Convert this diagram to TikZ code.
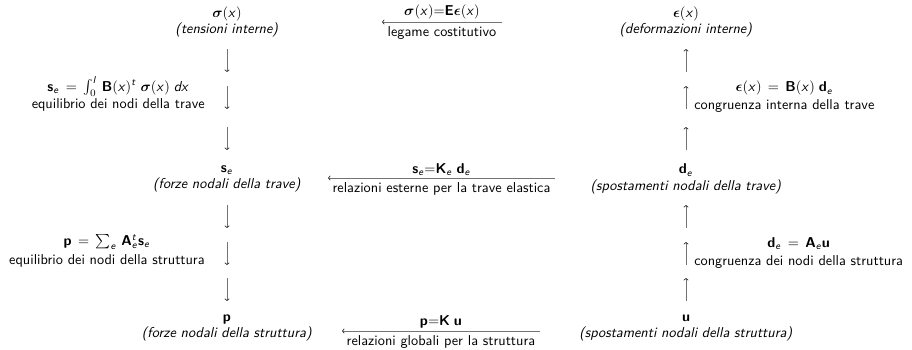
\documentclass[tikz,border=0pt]{standalone}
\usepackage{amsmath}
\usetikzlibrary{arrows.meta}
\renewcommand{\familydefault}{\sfdefault}
\DeclareSymbolFont{sfit}{OT1}{cmss}{m}{sl}
\DeclareMathSymbol{x}{\mathalpha}{sfit}{`x}
\DeclareMathSymbol{e}{\mathalpha}{sfit}{`e}
\DeclareMathSymbol{l}{\mathalpha}{sfit}{`l}
\DeclareMathSymbol{t}{\mathalpha}{sfit}{`t}
\DeclareMathSymbol{d}{\mathalpha}{sfit}{`d}
\DeclareMathAlphabet{\mathbsf}{OT1}{cmss}{bx}{n}
\newcommand{\bv}[1]{\mathbsf{#1}}
\newcommand{\bsig}{\boldsymbol{\sigma}}
\newcommand{\beps}{\boldsymbol{\epsilon}}
\begin{document}
\begin{tikzpicture}[x=0.7pt,y=-0.7pt,
  every node/.style={font=\fontsize{10}{11.5}\selectfont},
  qty/.style={align=center, inner sep=0pt},
  lbl/.style={align=center, inner sep=0pt},
  varrow/.style={draw=black!55, line width=0.5pt, -{To[length=1.8pt,width=3.4pt,black!80]}},
  harrow/.style={draw=black!55, line width=0.5pt, -{To[length=1.8pt,width=3.4pt,black!80]}},
  hla/.style={inner sep=1.5pt, above},
  hlb/.style={inner sep=3pt, below}]
\useasboundingbox (0,0) rectangle (912,350);

% quantities
\node[qty] (sig) at (227,22) {$\bsig(x)$\\ \textit{(tensioni interne)}};
\node[qty] (eps) at (686,22) {$\beps(x)$\\ \textit{(deformazioni interne)}};
\node[qty] (se) at (227,179) {$\bv{s}_e$\\ \textit{(forze nodali della trave)}};
\node[qty] (de) at (686,179) {$\bv{d}_e$\\ \textit{(spostamenti nodali della trave)}};
\node[qty] (p) at (227,328) {$\bv{p}$\\ \textit{(forze nodali della struttura)}};
\node[qty] (u) at (686,328) {$\bv{u}$\\ \textit{(spostamenti nodali della struttura)}};

% side labels
\node[lbl, anchor=east] (l1) at (205,94) {$\bv{s}_e\,=\,\int_0^l\,\bv{B}(x)^t\;\bsig(x)\;dx$\\[1pt] equilibrio dei nodi della trave};
\node[lbl, anchor=east] (l2) at (205,251) {$\bv{p}\,=\,\sum_e\,\bv{A}_e^t\bv{s}_e$\\[2pt] equilibrio dei nodi della struttura};
\node[lbl, anchor=west] (r1) at (694,97) {$\beps(x)\,=\,\bv{B}(x)\;\bv{d}_e$\\[1pt] congruenza interna della trave};
\node[lbl, anchor=west] (r2) at (694,253) {$\bv{d}_e\,=\,\bv{A}_e\bv{u}$\\[1pt] congruenza dei nodi della struttura};

% vertical arrow end points
\foreach \n/\a/\b in {1/49/72, 2/86/109, 3/127/150, 4/205/228, 5/242/265, 6/278/301}{
  \coordinate (L\n a) at (227,\a);
  \coordinate (L\n b) at (227,\b);
  \coordinate (R\n a) at (686,\b);
  \coordinate (R\n b) at (686,\a);
}
\foreach \n in {1,...,6}{
  \draw[varrow] (L\n a) -- (L\n b);
  \draw[varrow] (R\n a) -- (R\n b);
}

% horizontal arrows
\coordinate (h1a) at (502,22);  \coordinate (h1b) at (382,22);
\coordinate (h2a) at (555,178); \coordinate (h2b) at (328,178);
\coordinate (h3a) at (540,331); \coordinate (h3b) at (342,331);
\draw[harrow] (h1a) -- node[hla] {$\bsig(x){=}\bv{E}\beps(x)$} node[hlb] {legame costitutivo} (h1b);
\draw[harrow] (h2a) -- node[hla] {$\bv{s}_e{=}\bv{K}_e\;\bv{d}_e$} node[hlb] {relazioni esterne per la trave elastica} (h2b);
\draw[harrow] (h3a) -- node[hla] {$\bv{p}{=}\bv{K}\;\bv{u}$} node[hlb] {relazioni globali per la struttura} (h3b);
\end{tikzpicture}
\end{document}
